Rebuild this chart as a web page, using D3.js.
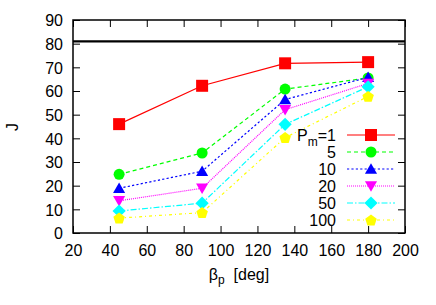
<!DOCTYPE html>
<html><head><meta charset="utf-8">
<script src="https://cdn.jsdelivr.net/npm/d3@7"></script>
<style>body{margin:0;background:#fff}svg{display:block}text{font-family:"Liberation Sans",Arial,sans-serif}</style>
</head><body><svg id="c" width="436" height="305"></svg>
<script>
const xValues = [45, 90, 135, 180];
const seriesNames = ["1", "5", "10", "20", "50", "100"];
const jPm1 = [46, 62.2, 71.7, 72.2];
const jPm5 = [24.8, 33.8, 60.8, 65.5];
const jPm10 = [18.9, 26.1, 56.4, 65.8];
const jPm20 = [13.6, 18.9, 52.1, 63.2];
const jPm50 = [9.3, 12.6, 45.9, 61.8];
const jPm100 = [6.3, 8.6, 40.3, 57.7];
const refLine = 81;
const xTicks = [20, 40, 60, 80, 100, 120, 140, 160, 180, 200];
const yTicks = [0, 10, 20, 30, 40, 50, 60, 70, 80, 90];

const allSeries = [jPm1, jPm5, jPm10, jPm20, jPm50, jPm100];
const colors = ["#ff0000", "#00ff00", "#0000ff", "#ff00ff", "#00ffff", "#ffff00"];
const dashes = [null, "4,3", "2.2,2.2", "1,1", "6,2,1.5,2", "3,3,1,3"];
const symbols = [d3.symbolSquare, d3.symbolCircle, d3.symbolTriangle, "tridown", d3.symbolDiamond, "pentagon"];

const L = 73, R = 405, T = 20, B = 233;
const svg = d3.select("#c");
const x = d3.scaleLinear().domain([20, 200]).range([L, R]);
const y = d3.scaleLinear().domain([0, 90]).range([B, T]);

function markerPath(k, s) {
  const sym = symbols[k];
  if (sym === "tridown") {
    const h = s * 0.95, w = s * 0.55;
    return `M${-w},${-h*0.45}L${w},${-h*0.45}L0,${h*0.55}Z`;
  }
  if (sym === "pentagon") {
    const r = s * 0.55; let p = "";
    for (let i = 0; i < 5; i++) {
      const a = -Math.PI / 2 + i * 2 * Math.PI / 5;
      p += (i ? "L" : "M") + (r * Math.cos(a)).toFixed(2) + "," + (r * Math.sin(a) + 0.5).toFixed(2);
    }
    return p + "Z";
  }
  if (sym === d3.symbolTriangle) {
    const h = s * 0.95, w = s * 0.55;
    return `M0,${-h*0.55}L${w},${h*0.45}L${-w},${h*0.45}Z`;
  }
  if (sym === d3.symbolDiamond) {
    const r = s * 0.6;
    return `M0,${-r}L${r},0L0,${r}L${-r},0Z`;
  }
  if (sym === d3.symbolSquare) return d3.symbol(sym, s * s)();
  return d3.symbol(sym, Math.PI * (s / 2) * (s / 2))();
}
const sizes = [12, 11, 11, 11, 11, 11];

// axes (ticks inward)
const tl = 7;
const gx = svg.append("g").attr("transform", `translate(0,${B})`)
  .call(d3.axisBottom(x).tickValues(xTicks).tickSize(-tl).tickPadding(12));
const gxt = svg.append("g").attr("transform", `translate(0,${T})`)
  .call(d3.axisTop(x).tickValues(xTicks).tickSize(-tl).tickFormat(""));
const gy = svg.append("g").attr("transform", `translate(${L},0)`)
  .call(d3.axisLeft(y).tickValues(yTicks).tickSize(-tl).tickPadding(10));
const gyr = svg.append("g").attr("transform", `translate(${R},0)`)
  .call(d3.axisRight(y).tickValues(yTicks).tickSize(-tl).tickFormat(""));
[gx, gxt, gy, gyr].forEach(g => {
  g.select(".domain").remove();
  g.selectAll(".tick line").attr("stroke", "#000").attr("stroke-width", 1);
  g.selectAll("text").attr("font-size", 16).attr("fill", "#000")
    .attr("font-family", "'Liberation Sans',Arial,sans-serif");
});
gx.selectAll("text").attr("dy", "0.71em");
gy.selectAll("text").attr("dy", "0.36em");

// reference line
svg.append("line").attr("x1", L).attr("x2", R).attr("y1", y(refLine)).attr("y2", y(refLine))
  .attr("stroke", "#000").attr("stroke-width", 2.2);

// frame
svg.append("rect").attr("x", L).attr("y", T).attr("width", R - L).attr("height", B - T)
  .attr("fill", "none").attr("stroke", "#000").attr("stroke-width", 1.5);

const line = d3.line().x((d, i) => x(xValues[i])).y(d => y(d));
allSeries.forEach((vals, k) => {
  svg.append("path").datum(vals).attr("d", line).attr("fill", "none")
    .attr("stroke", colors[k]).attr("stroke-width", 1.2)
    .attr("stroke-dasharray", dashes[k]);
});
allSeries.forEach((vals, k) => {
  svg.selectAll(null).data(vals).enter().append("path")
    .attr("d", markerPath(k, sizes[k]))
    .attr("transform", (d, i) => `translate(${x(xValues[i])},${y(d)})`)
    .attr("fill", colors[k]);
});

// legend
const lg = svg.append("g");
seriesNames.forEach((n, k) => {
  const ly = 135 + k * 17;
  lg.append("line").attr("x1", 347).attr("x2", 395).attr("y1", ly).attr("y2", ly)
    .attr("stroke", colors[k]).attr("stroke-width", 1.2).attr("stroke-dasharray", dashes[k]);
  lg.append("path").attr("d", markerPath(k, sizes[k])).attr("transform", `translate(371,${ly})`)
    .attr("fill", colors[k]);
  const t = lg.append("text").attr("x", 336).attr("y", ly + 6).attr("text-anchor", "end")
    .attr("font-size", 16).attr("fill", "#000");
  if (k === 0) {
    t.append("tspan").text("P");
    t.append("tspan").attr("font-size", 12).attr("dy", 5).text("m");
    t.append("tspan").attr("dy", -5).text("=" + n);
  } else t.text(n);
});

// axis titles
svg.append("text").attr("transform", "translate(18,127) rotate(-90)").attr("text-anchor", "middle")
  .attr("font-size", 16).text("J");
const xt = svg.append("text").attr("x", 239).attr("y", 280).attr("text-anchor", "middle").attr("font-size", 16);
xt.append("tspan").text("β");
xt.append("tspan").attr("font-size", 12).attr("dy", 4).text("p");
xt.append("tspan").attr("dy", -4).text("  [deg]");
xt.attr("xml:space", "preserve").style("white-space", "pre");
</script></body></html>
